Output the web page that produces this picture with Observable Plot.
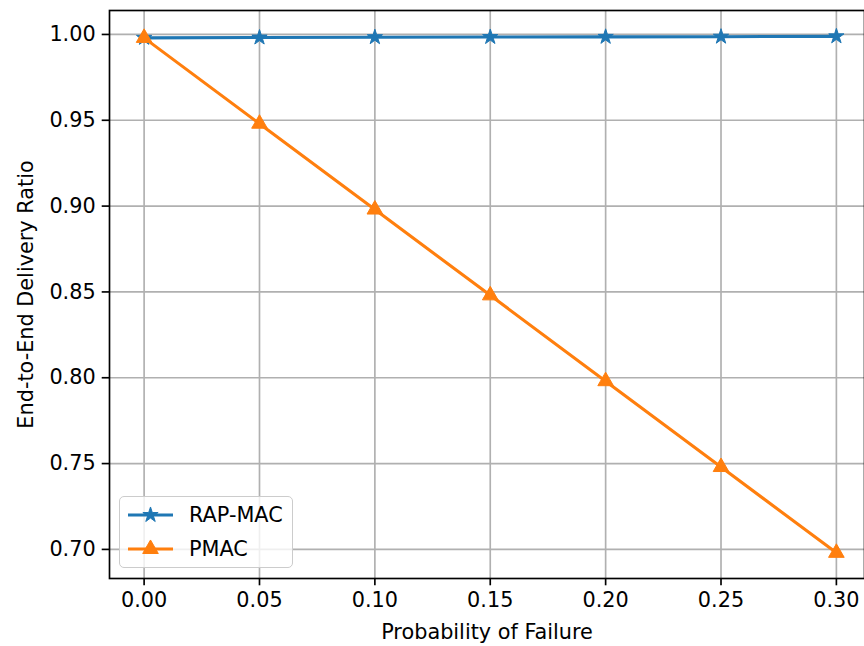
<!DOCTYPE html>
<html>
<head>
<meta charset="utf-8">
<script src="https://cdn.jsdelivr.net/npm/d3@7"></script>
<script src="https://cdn.jsdelivr.net/npm/@observablehq/plot@0.6"></script>
<style>
  html, body { margin: 0; padding: 0; background: white; overflow: hidden; }
  #wrap { position: relative; width: 864px; height: 646px; font-family: "DejaVu Sans", sans-serif; }
  #legend { position: absolute; left: 119px; top: 496px; width: 174px; height: 72px;
    border: 1.5px solid #cccccc; border-radius: 5px; background: rgba(255,255,255,0.8); box-sizing: border-box; }
  #legend svg { position: absolute; left: 0; top: 0; }
</style>
</head>
<body>
<div id="wrap"></div>
<script>
const probFailure = [0.00, 0.05, 0.10, 0.15, 0.20, 0.25, 0.30];
const rapMac = [0.9980, 0.9982, 0.9984, 0.9985, 0.9986, 0.9987, 0.9989];
const pmac = [0.998, 0.948, 0.898, 0.848, 0.798, 0.748, 0.698];
const seriesNames = ["RAP-MAC", "PMAC"];
const seriesColors = ["#1f77b4", "#ff7f0e"];
const seriesSymbols = ["star", "triangle"];
const xTicks = [0.00, 0.05, 0.10, 0.15, 0.20, 0.25, 0.30];
const yTicks = [0.70, 0.75, 0.80, 0.85, 0.90, 0.95, 1.00];
const xLabel = "Probability of Failure";
const yLabel = "End-to-End Delivery Ratio";

const data = [];
probFailure.forEach((p, i) => {
  data.push({p, v: rapMac[i], s: seriesNames[0]});
});
probFailure.forEach((p, i) => {
  data.push({p, v: pmac[i], s: seriesNames[1]});
});

const FS = 20.8;
const LW = 3.1;
const chart = Plot.plot({
  width: 864,
  height: 646,
  marginLeft: 109,
  marginTop: 10,
  marginBottom: 68,
  marginRight: 0,
  style: {fontFamily: "DejaVu Sans, sans-serif", fontSize: FS + "px", color: "black", background: "white", overflow: "hidden"},
  x: {domain: [-0.015, 0.315], range: [109, 870.5]},
  y: {domain: [0.68305, 1.01395]},
  color: {domain: seriesNames, range: seriesColors},
  symbol: {domain: seriesNames, range: seriesSymbols},
  marks: [
    Plot.gridX(xTicks, {stroke: "#b0b0b0", strokeOpacity: 1, strokeWidth: 1.67}),
    Plot.gridY(yTicks, {stroke: "#b0b0b0", strokeOpacity: 1, strokeWidth: 1.67}),
    Plot.axisX(xTicks, {tickFormat: d3.format(".2f"), tickSize: 7.3, tickPadding: 6.5, strokeWidth: 1.67, label: null, fontSize: FS}),
    Plot.axisY(yTicks, {tickFormat: d3.format(".2f"), tickSize: 7.3, tickPadding: 6.5, strokeWidth: 1.67, label: null, fontSize: FS}),
    Plot.line(data, {x: "p", y: "v", z: "s", stroke: "s", strokeWidth: LW}),
    Plot.dot(data.filter(d => d.s === "RAP-MAC"), {x: "p", y: "v", symbol: "s", fill: "s", r: 4.8, stroke: "s", strokeWidth: 1}),
    Plot.dot(data.filter(d => d.s === "PMAC"), {x: "p", y: "v", symbol: "s", fill: "s", r: 5.8, stroke: "s", strokeWidth: 1}),
    Plot.frame({stroke: "black", strokeWidth: 1.67, strokeOpacity: 1}),
    Plot.text([xLabel], {frameAnchor: "bottom", text: d => d, dy: 54, lineAnchor: "middle", fontSize: FS}),
    Plot.text([yLabel], {frameAnchor: "left", text: d => d, dx: -83, rotate: -90, lineAnchor: "middle", textAnchor: "middle", fontSize: FS})
  ]
});
const wrap = document.getElementById("wrap");
wrap.appendChild(chart);

// legend
const leg = document.createElement("div");
leg.id = "legend";
wrap.appendChild(leg);
const ls = d3.select(leg).append("svg").attr("width", 174).attr("height", 72)
  .style("font-family", "DejaVu Sans, sans-serif").style("font-size", FS + "px");
const symMap = {star: d3.symbolStar, triangle: d3.symbolTriangle};
const sizes = [Math.PI * 4.8 * 4.8, Math.PI * 5.8 * 5.8];
seriesNames.forEach((name, i) => {
  const y = 18 + i * 34;
  ls.append("line").attr("x1", 8).attr("x2", 53).attr("y1", y).attr("y2", y)
    .attr("stroke", seriesColors[i]).attr("stroke-width", LW);
  ls.append("path").attr("d", d3.symbol(symMap[seriesSymbols[i]], sizes[i])())
    .attr("transform", `translate(30.5,${y})`).attr("fill", seriesColors[i])
    .attr("stroke", seriesColors[i]).attr("stroke-width", 1);
  ls.append("text").attr("x", 69).attr("y", y).attr("dy", "0.35em").text(name);
});
</script>
</body>
</html>
